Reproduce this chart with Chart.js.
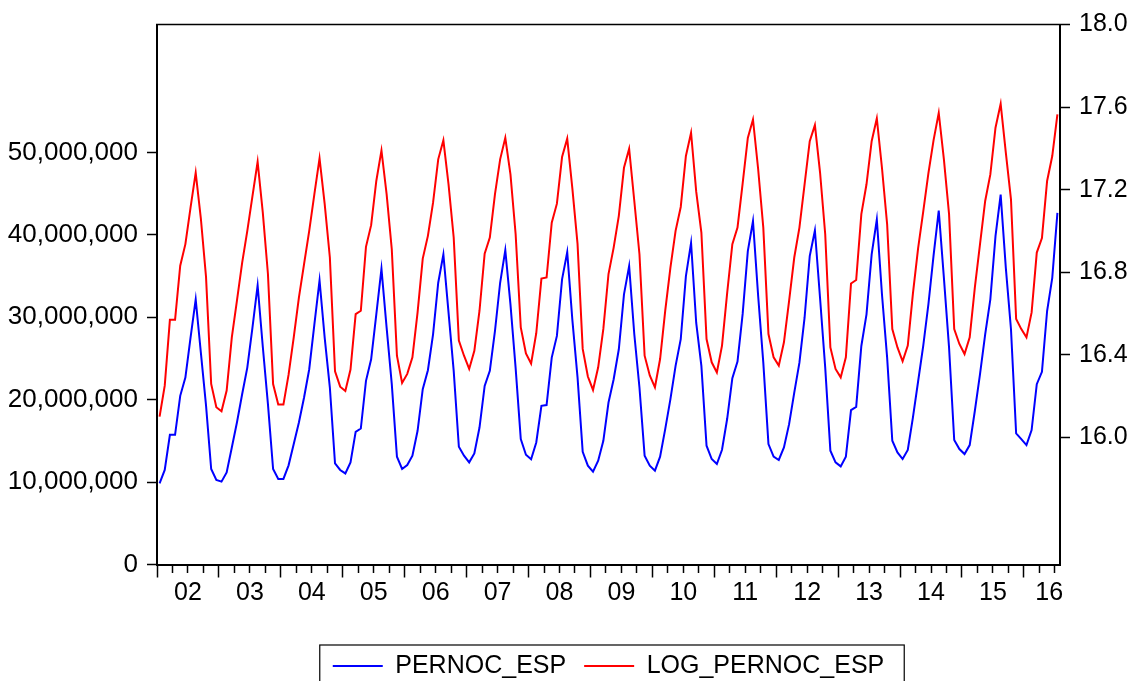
<!DOCTYPE html>
<html><head><meta charset="utf-8">
<script src="https://cdn.jsdelivr.net/npm/chart.js@4.4.1/dist/chart.umd.min.js"></script>
<style>html,body{margin:0;padding:0;background:#fff;} canvas{display:block;}</style>
</head><body>
<canvas id="c" width="1132" height="681"></canvas>
<script>
// Monthly observations 2002M01 .. 2016M07
const yearLabels = ['02','03','04','05','06','07','08','09','10','11','12','13','14','15','16'];
const seriesNames = ['PERNOC_ESP', 'LOG_PERNOC_ESP'];

const pernocEsp = [
  9840000, 11470000, 15740000, 15740000, 20460000, 22680000, 27520000, 32170000, 25700000, 19300000, 11590000, 10250000,
  10050000, 11170000, 14200000, 17250000, 20650000, 23890000, 28730000, 33860000, 26450000, 19460000, 11590000, 10380000,
  10380000, 12030000, 14610000, 17230000, 20260000, 23690000, 29140000, 34470000, 27500000, 21470000, 12260000, 11470000,
  11050000, 12390000, 16100000, 16500000, 22280000, 24900000, 30350000, 35870000, 28730000, 21880000, 13080000, 11590000,
  12070000, 13200000, 16220000, 21270000, 23570000, 27930000, 34180000, 37620000, 30550000, 23490000, 14290000, 13200000,
  12390000, 13480000, 16620000, 21670000, 23490000, 28330000, 34180000, 38140000, 31560000, 23850000, 15220000, 13320000,
  12770000, 14810000, 19250000, 19340000, 25100000, 27730000, 34590000, 37890000, 29650000, 22700000, 13680000, 11990000,
  11260000, 12590000, 15000000, 19650000, 22480000, 26110000, 32770000, 36200000, 27930000, 21470000, 13200000, 11990000,
  11380000, 13080000, 16450000, 20060000, 24090000, 27330000, 34990000, 39020000, 29300000, 24090000, 14410000, 12800000,
  12190000, 13920000, 17680000, 22600000, 24610000, 30400000, 38020000, 41650000, 32600000, 24490000, 14610000, 13080000,
  12680000, 14200000, 17030000, 20860000, 24490000, 29940000, 37410000, 40520000, 32300000, 23890000, 13800000, 12390000,
  11900000, 13080000, 18730000, 19130000, 26510000, 30350000, 37620000, 41850000, 32750000, 25100000, 15010000, 13600000,
  12800000, 13890000, 17850000, 22200000, 26550000, 31600000, 37500000, 42940000, 34780000, 26310000, 15100000, 14010000,
  13400000, 14490000, 18650000, 23090000, 27930000, 32170000, 39830000, 44880000, 35990000, 28540000, 15900000, 15220000,
  14490000, 16310000, 21880000, 23370000, 30750000, 34780000, 42650000
];

const logPernocEsp = [
  16.100, 16.250, 16.569, 16.569, 16.831, 16.936, 17.113, 17.282, 17.060, 16.777, 16.258, 16.145,
  16.126, 16.226, 16.484, 16.663, 16.845, 17.000, 17.169, 17.335, 17.090, 16.791, 16.258, 16.158,
  16.158, 16.303, 16.484, 16.677, 16.839, 17.000, 17.178, 17.352, 17.130, 16.871, 16.319, 16.245,
  16.224, 16.328, 16.597, 16.613, 16.923, 17.028, 17.242, 17.390, 17.178, 16.911, 16.395, 16.263,
  16.307, 16.387, 16.605, 16.866, 16.976, 17.137, 17.347, 17.439, 17.226, 16.968, 16.468, 16.395,
  16.331, 16.419, 16.613, 16.890, 16.968, 17.178, 17.347, 17.451, 17.274, 16.985, 16.532, 16.406,
  16.357, 16.504, 16.769, 16.774, 17.040, 17.132, 17.358, 17.447, 17.205, 16.937, 16.428, 16.294,
  16.229, 16.339, 16.525, 16.791, 16.919, 17.073, 17.306, 17.398, 17.145, 16.887, 16.395, 16.299,
  16.242, 16.379, 16.615, 16.822, 17.000, 17.116, 17.363, 17.476, 17.190, 16.992, 16.476, 16.363,
  16.314, 16.444, 16.700, 16.936, 17.016, 17.230, 17.451, 17.540, 17.300, 17.016, 16.500, 16.387,
  16.347, 16.460, 16.661, 16.871, 17.016, 17.226, 17.435, 17.513, 17.283, 16.984, 16.435, 16.331,
  16.290, 16.387, 16.745, 16.762, 17.081, 17.226, 17.435, 17.545, 17.305, 17.032, 16.524, 16.435,
  16.368, 16.444, 16.697, 16.915, 17.095, 17.280, 17.440, 17.572, 17.347, 17.081, 16.524, 16.452,
  16.403, 16.484, 16.726, 16.936, 17.145, 17.274, 17.500, 17.616, 17.379, 17.153, 16.573, 16.524,
  16.484, 16.605, 16.895, 16.965, 17.242, 17.363, 17.565
];

const leftTicks = [0, 10000000, 20000000, 30000000, 40000000, 50000000];
const rightTicks = [16.0, 16.4, 16.8, 17.2, 17.6, 18.0];

const FONT = '"Liberation Sans", Arial, Helvetica, sans-serif';
Chart.defaults.font.family = FONT;
Chart.defaults.color = '#000';

const nObs = pernocEsp.length;
const toPts = arr => arr.map((v, i) => ({x: i + 0.5, y: v}));

// x axis ticks: quarter marks (major at year start), year labels centred in each year
const xTickDefs = [];
for (let m = 0; m < nObs; m += 3) {
  const yi = Math.floor(m / 12);
  const isLabel = (m % 12 === 6) && (yi < yearLabels.length) && (m + 6 <= nObs);
  xTickDefs.push({value: m, kind: (m % 12 === 0) ? 'major' : 'minor', lbl: isLabel ? yearLabels[yi] : ''});
}
// last (partial) year label
xTickDefs.push({value: 172.9, kind: 'label', lbl: yearLabels[yearLabels.length - 1]});
xTickDefs.sort((a, b) => a.value - b.value);

const framePlugin = {
  id: 'frame',
  afterDraw(chart) {
    const ctx = chart.ctx, ca = chart.chartArea;
    ctx.save();
    ctx.strokeStyle = '#000';
    ctx.lineWidth = 1.5;
    ctx.beginPath();
    ctx.moveTo(ca.left - 1, ca.top);
    ctx.lineTo(ca.right + 1, ca.top);
    ctx.stroke();
    const lg = chart.legend;
    if (lg && lg.legendHitBoxes && lg.legendHitBoxes.length) {
      const hb = lg.legendHitBoxes;
      const last = hb[hb.length - 1];
      const l = hb[0].left - 13;
      const r = last.left + last.width + 20;
      const t = lg.top + 9.5;
      ctx.lineWidth = 1.2;
      ctx.strokeRect(l, t, r - l, 120);
    }
    ctx.restore();
  }
};

new Chart(document.getElementById('c'), {
  type: 'line',
  data: {
    datasets: [
      {label: seriesNames[0], data: toPts(pernocEsp), yAxisID: 'y', borderColor: '#0000FF', backgroundColor: '#0000FF', borderWidth: 2, pointRadius: 0, tension: 0, fill: false},
      {label: seriesNames[1], data: toPts(logPernocEsp), yAxisID: 'y2', borderColor: '#FF0000', backgroundColor: '#FF0000', borderWidth: 2, pointRadius: 0, tension: 0, fill: false}
    ]
  },
  options: {
    responsive: false,
    animation: false,
    devicePixelRatio: 1,
    layout: {padding: {top: 23, left: 0, right: 0, bottom: -7.5}},
    plugins: {
      tooltip: {enabled: false},
      legend: {
        display: true,
        position: 'bottom',
        fullSize: false,
        labels: {
          boxWidth: 50,
          boxHeight: 2,
          padding: 18,
          color: '#000',
          font: {size: 25, family: FONT},
          generateLabels: chart => Chart.defaults.plugins.legend.labels.generateLabels(chart).map(l => Object.assign({}, l, {fillStyle: l.strokeStyle, lineWidth: 0}))
        }
      }
    },
    scales: {
      x: {
        type: 'linear',
        position: 'bottom',
        min: 0,
        max: nObs,
        bounds: 'data',
        afterBuildTicks: s => { s.ticks = xTickDefs.map(t => ({value: t.value, kind: t.kind, lbl: t.lbl})); },
        afterFit: s => { s.height = 71; },
        border: {display: true, color: '#000', width: 2},
        grid: {
          display: true,
          drawOnChartArea: false,
          drawTicks: true,
          tickLength: 13,
          tickColor: '#000',
          tickWidth: c => (c.tick && c.tick.kind === 'label') ? 0 : 1.5,
          tickBorderDash: c => (c.tick && c.tick.kind === 'minor') ? [7, 40] : []
        },
        ticks: {
          autoSkip: false,
          maxRotation: 0,
          minRotation: 0,
          padding: 1,
          color: '#000',
          font: {size: 25, family: FONT},
          callback: (v, i, ticks) => (ticks[i] && ticks[i].lbl) || ''
        }
      },
      y: {
        type: 'linear',
        position: 'left',
        min: 0,
        max: 65500000,
        afterBuildTicks: s => { s.ticks = leftTicks.map(v => ({value: v})); },
        afterFit: s => { s.width = 157; },
        border: {display: true, color: '#000', width: 2},
        grid: {display: true, drawOnChartArea: false, drawTicks: true, tickLength: 10, tickColor: '#000', tickWidth: 1.5},
        ticks: {
          padding: 9,
          color: '#000',
          font: {size: 26, family: FONT},
          callback: v => Number(v).toLocaleString('en-US')
        }
      },
      y2: {
        type: 'linear',
        position: 'right',
        min: 15.383,
        max: 18.0,
        afterBuildTicks: s => { s.ticks = rightTicks.map(v => ({value: v})); },
        afterFit: s => { s.width = 72; },
        border: {display: true, color: '#000', width: 2},
        grid: {display: true, drawOnChartArea: false, drawTicks: true, tickLength: 10, tickColor: '#000', tickWidth: 1.5},
        ticks: {
          padding: 9,
          color: '#000',
          font: {size: 25, family: FONT},
          callback: v => Number(v).toFixed(1)
        }
      }
    }
  },
  plugins: [framePlugin]
});
</script>
</body></html>
